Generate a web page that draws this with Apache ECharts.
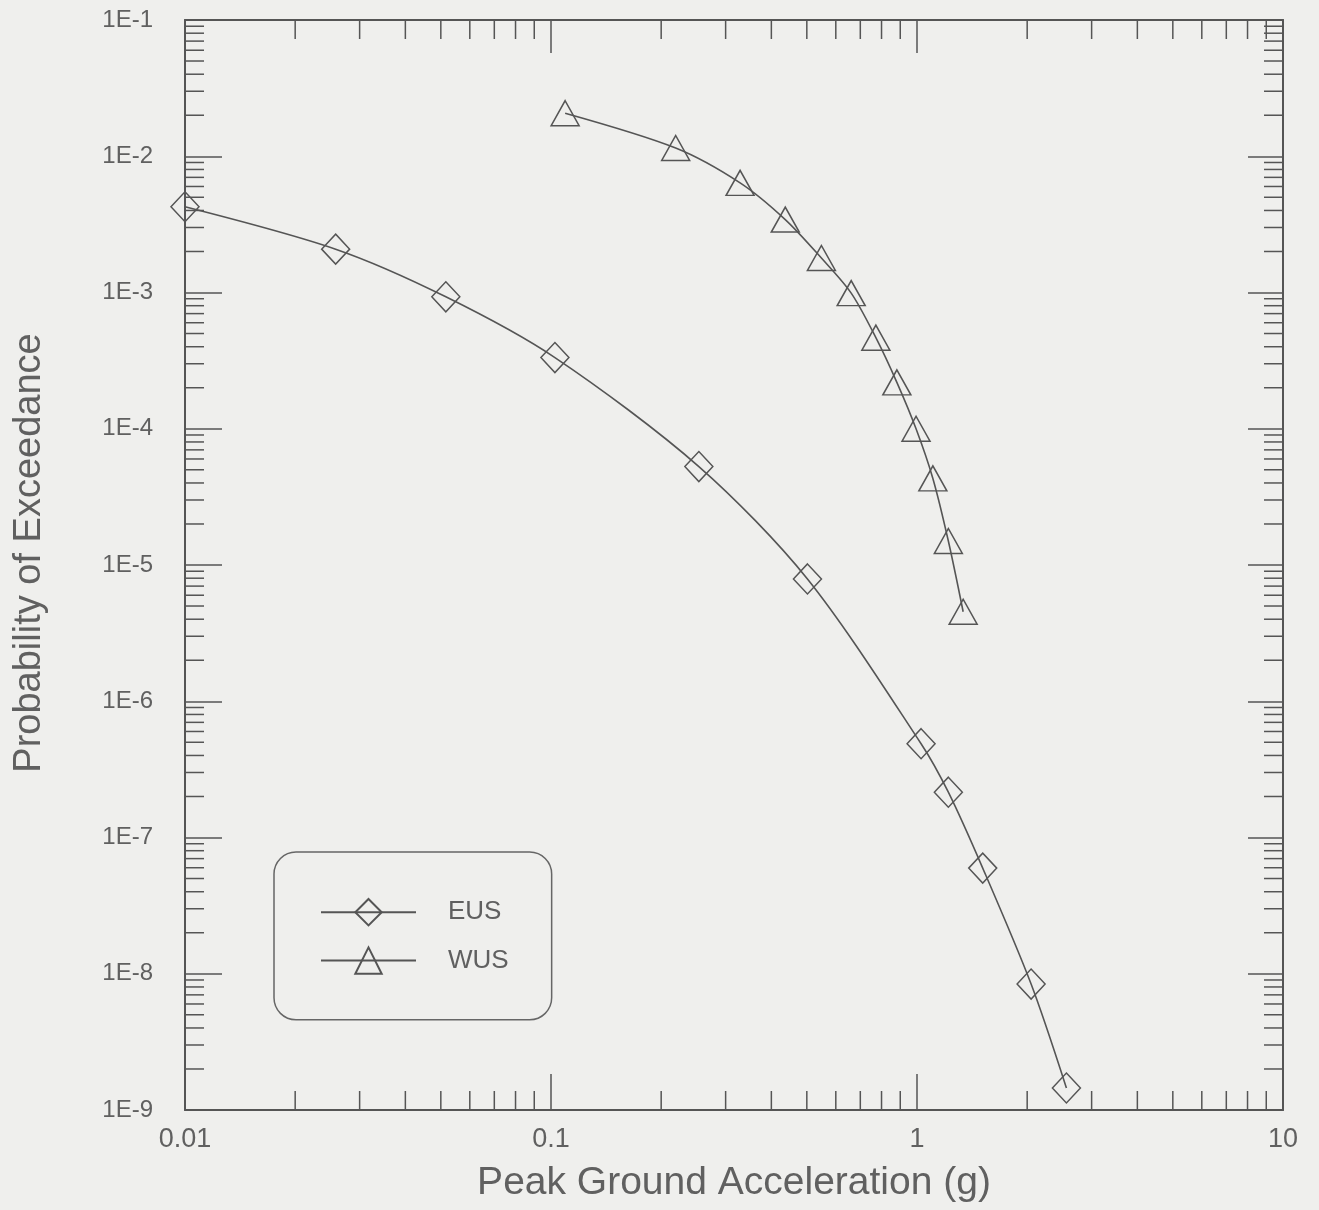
<!DOCTYPE html>
<html>
<head>
<meta charset="utf-8">
<script src="https://cdn.jsdelivr.net/npm/echarts@6/dist/echarts.min.js"></script>
<style>
  html, body { margin: 0; padding: 0; background: #efefed; }
  #chart { width: 1319px; height: 1210px; }
</style>
</head>
<body>
<div id="chart"></div>
<script>
// ---- data ----
const seriesNames = ['EUS', 'WUS'];
const eusX = [0.01, 0.0258, 0.0516, 0.1025, 0.2535, 0.502, 1.026, 1.218, 1.512, 2.05, 2.56];
const eusY = [4.26e-3, 2.08e-3, 9.3e-4, 3.33e-4, 5.28e-5, 7.9e-6, 4.88e-7, 2.15e-7, 5.96e-8, 8.4e-9, 1.45e-9];
const wusX = [0.1093, 0.2191, 0.3286, 0.4366, 0.548, 0.661, 0.772, 0.881, 0.994, 1.105, 1.218, 1.337];
const wusY = [2.07e-2, 1.15e-2, 6.38e-3, 3.43e-3, 1.79e-3, 9.9e-4, 4.66e-4, 2.19e-4, 1.0e-4, 4.32e-5, 1.50e-5, 4.54e-6];

const xTickValues = [0.01, 0.1, 1, 10];
const xTickLabels = ['0.01', '0.1', '1', '10'];
const yTickValues = [1e-1, 1e-2, 1e-3, 1e-4, 1e-5, 1e-6, 1e-7, 1e-8, 1e-9];
const yTickLabels = ['1E-1', '1E-2', '1E-3', '1E-4', '1E-5', '1E-6', '1E-7', '1E-8', '1E-9'];
const minorMantissas = [2, 3, 4, 5, 6, 7, 8, 9];
const xDecadeStarts = [0.01, 0.1, 1];
const yDecadeStarts = [1e-9, 1e-8, 1e-7, 1e-6, 1e-5, 1e-4, 1e-3, 1e-2];

const xTitle = 'Peak Ground Acceleration (g)';
const yTitle = 'Probability of Exceedance';

// ---- styling ----
const INK = '#555555';
const TEXT = '#606060';
const FONT = '"Liberation Sans", Arial, sans-serif';
const MINOR_LEN = 19;

function labelFor(values, labels) {
  return function (v) {
    for (let i = 0; i < values.length; i++) {
      if (Math.abs(Math.log10(v) - Math.log10(values[i])) < 1e-6) return labels[i];
    }
    return '';
  };
}

const xMinor = [];
xDecadeStarts.forEach(d => minorMantissas.forEach(m => xMinor.push([d * m, 1e-5])));
const yMinor = [];
yDecadeStarts.forEach(d => minorMantissas.forEach(m => yMinor.push([1, d * m])));

const chart = echarts.init(document.getElementById('chart'), null, { renderer: 'canvas' });

const baseX = {
  type: 'log', logBase: 10, min: 0.01, max: 10, splitNumber: 3,
  splitLine: { show: false }, minorTick: { show: false }, minorSplitLine: { show: false }
};
const baseY = {
  type: 'log', logBase: 10, min: 1e-9, max: 1e-1, splitNumber: 8,
  splitLine: { show: false }, minorTick: { show: false }, minorSplitLine: { show: false }
};

chart.setOption({
  animation: false,
  backgroundColor: '#efefed',
  textStyle: { fontFamily: FONT },
  grid: { left: 185, right: 36, top: 20, bottom: 100, containLabel: false },
  legend: {
    data: seriesNames,
    orient: 'vertical',
    left: 274, top: 852,
    padding: [46, 43, 45, 46],
    itemWidth: 95, itemHeight: 33, itemGap: 20,
    borderColor: '#666', borderWidth: 1.5, borderRadius: 22,
    backgroundColor: 'transparent',
    textStyle: { fontSize: 26, color: TEXT, fontFamily: FONT, padding: [0, 0, 0, 27] }
  },
  xAxis: [
    Object.assign({}, baseX, {
      position: 'bottom',
      name: xTitle, nameLocation: 'middle', nameGap: 54,
      nameTextStyle: { fontSize: 39, color: TEXT, fontFamily: FONT },
      axisLine: { show: true, lineStyle: { color: INK, width: 2 } },
      axisTick: { show: true, inside: true, length: 36, lineStyle: { color: INK, width: 1.5 } },
      axisLabel: { show: true, margin: 16, fontSize: 27, color: TEXT, fontFamily: FONT,
                   formatter: labelFor(xTickValues, xTickLabels) }
    }),
    Object.assign({}, baseX, {
      position: 'top',
      axisLine: { show: true, lineStyle: { color: INK, width: 2 } },
      axisTick: { show: true, inside: true, length: 33, lineStyle: { color: INK, width: 1.5 } },
      axisLabel: { show: false }
    })
  ],
  yAxis: [
    Object.assign({}, baseY, {
      position: 'left',
      name: yTitle, nameLocation: 'middle', nameGap: 136, nameRotate: 90,
      nameTextStyle: { fontSize: 38, color: TEXT, fontFamily: FONT, padding: [0, 0, 0, 24] },
      axisLine: { show: true, lineStyle: { color: INK, width: 2 } },
      axisTick: { show: true, inside: true, length: 37, lineStyle: { color: INK, width: 1.5 } },
      axisLabel: { show: true, margin: 32, fontSize: 24, color: TEXT, fontFamily: FONT,
                   formatter: labelFor(yTickValues, yTickLabels) }
    }),
    Object.assign({}, baseY, {
      position: 'right',
      axisLine: { show: true, lineStyle: { color: INK, width: 2 } },
      axisTick: { show: true, inside: true, length: 35, lineStyle: { color: INK, width: 1.5 } },
      axisLabel: { show: false }
    })
  ],
  series: [
    {
      name: 'xMinorTicks', type: 'custom', xAxisIndex: 0, yAxisIndex: 0,
      silent: true, clip: false, data: xMinor,
      renderItem: function (params, api) {
        const p = api.coord([api.value(0), api.value(1)]);
        const cs = params.coordSys;
        const st = { stroke: INK, lineWidth: 1.5 };
        return { type: 'group', children: [
          { type: 'line', shape: { x1: p[0], y1: cs.y + cs.height, x2: p[0], y2: cs.y + cs.height - MINOR_LEN }, style: st },
          { type: 'line', shape: { x1: p[0], y1: cs.y, x2: p[0], y2: cs.y + MINOR_LEN }, style: st }
        ] };
      }
    },
    {
      name: 'yMinorTicks', type: 'custom', xAxisIndex: 0, yAxisIndex: 0,
      silent: true, clip: false, data: yMinor,
      renderItem: function (params, api) {
        const p = api.coord([api.value(0), api.value(1)]);
        const cs = params.coordSys;
        const st = { stroke: INK, lineWidth: 1.5 };
        return { type: 'group', children: [
          { type: 'line', shape: { x1: cs.x, y1: p[1], x2: cs.x + MINOR_LEN, y2: p[1] }, style: st },
          { type: 'line', shape: { x1: cs.x + cs.width, y1: p[1], x2: cs.x + cs.width - MINOR_LEN, y2: p[1] }, style: st }
        ] };
      }
    },
    {
      name: seriesNames[0], type: 'line', xAxisIndex: 0, yAxisIndex: 0,
      data: eusX.map((x, i) => [x, eusY[i]]),
      symbol: 'diamond', symbolSize: [28, 30], showAllSymbol: true,
      smooth: 0.3,
      lineStyle: { color: INK, width: 1.6 },
      itemStyle: { color: 'rgba(0,0,0,0)', borderColor: INK, borderWidth: 1.5 },
      emphasis: { disabled: true },
      clip: false, z: 5
    },
    {
      name: seriesNames[1], type: 'line', xAxisIndex: 0, yAxisIndex: 0,
      data: wusX.map((x, i) => [x, wusY[i]]),
      symbol: 'triangle', symbolSize: [28, 25], showAllSymbol: true,
      smooth: 0.3,
      lineStyle: { color: INK, width: 1.6 },
      itemStyle: { color: 'rgba(0,0,0,0)', borderColor: INK, borderWidth: 1.5 },
      emphasis: { disabled: true },
      clip: false, z: 5
    }
  ]
});
</script>
</body>
</html>
